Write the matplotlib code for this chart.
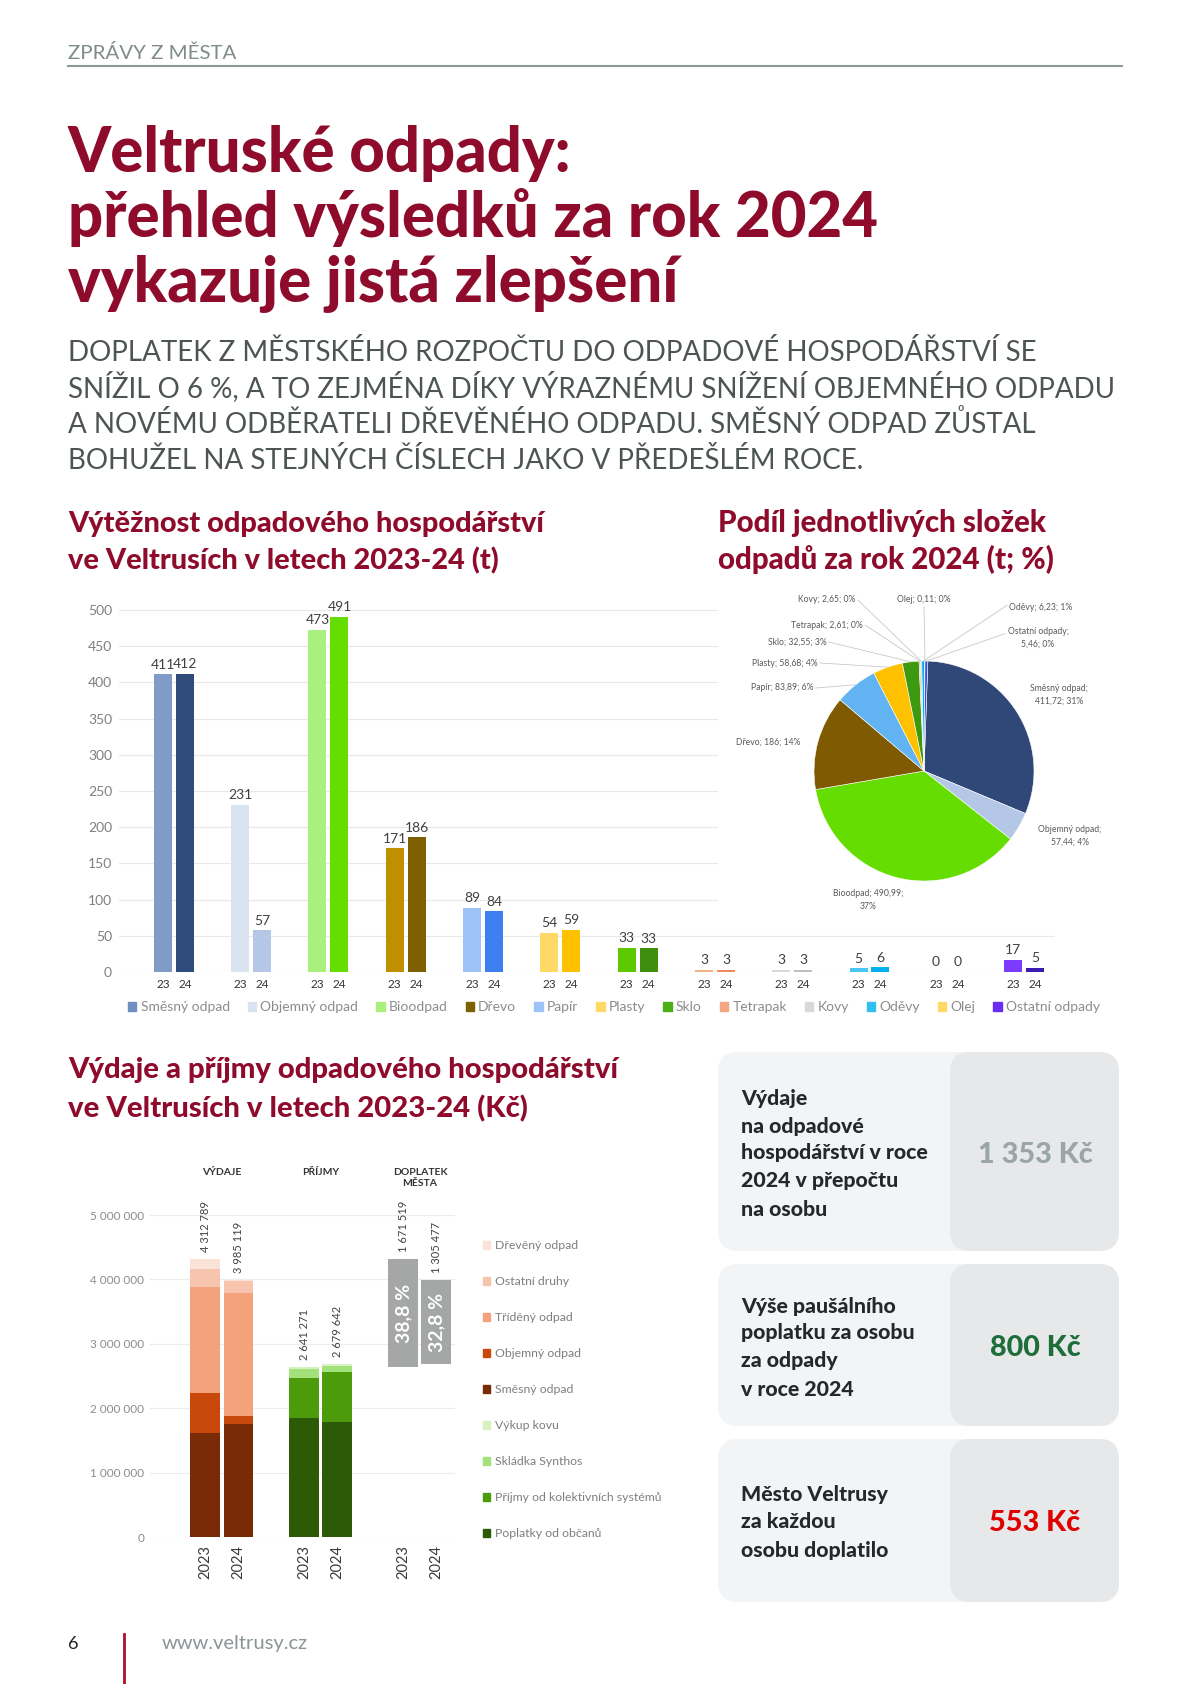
import numpy as np
import matplotlib
matplotlib.use('Agg')
import matplotlib.pyplot as plt
from matplotlib import font_manager
from matplotlib.patches import FancyBboxPatch, Patch

W, H = 1191, 1684

# --- Vytéžnost odpadového hospodářství (t) ---
waste_types = ['Směsný odpad', 'Objemný odpad', 'Bioodpad', 'Dřevo', 'Papír', 'Plasty',
               'Sklo', 'Tetrapak', 'Kovy', 'Oděvy', 'Olej', 'Ostatní odpady']
tons_2023 = [411, 231, 473, 171, 89, 54, 33, 3, 3, 5, 0, 17]
tons_2024 = [411.72, 57.44, 490.99, 186, 83.89, 58.68, 32.55, 2.61, 2.65, 6.23, 0.11, 5.46]
short_years = ['23', '24']

# --- podíl složek 2024 (t; %) ---
pie_pct = [31, 4, 37, 14, 6, 4, 3, 0, 0, 1, 0, 0]

# --- výdaje a příjmy (Kč) ---
years = ['2023', '2024']
groups = ['VÝDAJE', 'PŘÍJMY', 'DOPLATEK\nMĚSTA']
exp_labels = ['Směsný odpad', 'Objemný odpad', 'Tříděný odpad', 'Ostatní druhy', 'Dřevěný odpad']
exp_2023 = [1615000, 625000, 1635000, 282789, 155000]
exp_2024 = [1755000, 125000, 1905000, 185119, 15000]
inc_labels = ['Poplatky od občanů', 'Příjmy od kolektivních systémů', 'Skládka Synthos', 'Výkup kovu']
inc_2023 = [1850000, 625000, 140000, 26271]
inc_2024 = [1785000, 770000, 95000, 29642]
doplatek = [1671519, 1305477]

# --- infoboxy ---
box_texts = [['Výdaje', 'na odpadové', 'hospodářství v roce', '2024 v přepočtu', 'na osobu'],
             ['Výše paušálního', 'poplatku za osobu', 'za odpady', 'v roce 2024'],
             ['Město Veltrusy', 'za každou', 'osobu doplatilo']]
box_values = ['1 353 Kč', '800 Kč', '553 Kč']

# colours
RED = '#8f0b2c'
c23 = ['#7f9cc7', '#dae3f0', '#a9f07c', '#bf8f00', '#9dc3f6', '#ffd966',
       '#5ec800', '#f4b183', '#d9d9d9', '#47c8f2', '#ffe699', '#7c3cff']
c24 = ['#2f4b7c', '#b4c7e7', '#66dd00', '#7f6000', '#3e7ff0', '#ffc000',
       '#3d8f0d', '#f08a5c', '#bfbfbf', '#00b0f0', '#c9a227', '#3a1cb0']
leg_cols = ['#6f8fc0', '#dae3f0', '#a9f07c', '#7f6000', '#9dc3f6', '#ffd966',
            '#4caf1a', '#f4a582', '#d9d9d9', '#2fc0f0', '#ffd966', '#6a2cf0']
pie_cols = ['#2f4878', '#b4c7e7', '#66dd00', '#7f5a00', '#62b3f2', '#ffc000',
            '#3d9a10', '#f08a5c', '#bfbfbf', '#00b0f0', '#c9a227', '#3050e0']
exp_cols = ['#7a2a06', '#c9480c', '#f4a27c', '#f7c4ae', '#fbe2d6']
inc_cols = ['#2d5a06', '#4b9b0a', '#a3e27a', '#d6f2c0']
box_val_cols = ['#9aa5a5', '#1f6e3a', '#e00000']

names = {f.name for f in font_manager.fontManager.ttflist}
NARROW = 'Liberation Sans Narrow' if 'Liberation Sans Narrow' in names else 'Lato'
SANS = 'Lato' if 'Lato' in names else 'DejaVu Sans'
plt.rcParams['font.family'] = [SANS, 'DejaVu Sans']

fig = plt.figure(figsize=(W / 100, H / 100), dpi=100)
renderer = fig.canvas.get_renderer()
page = fig.add_axes([0, 0, 1, 1])
page.set_xlim(0, W)
page.set_ylim(H, 0)
page.axis('off')


def px_axes(x0, y0, x1, y1):
    return fig.add_axes([x0 / W, 1 - y1 / H, (x1 - x0) / W, (y1 - y0) / H])


def fit(t, width):
    bb = t.get_window_extent(renderer)
    t.set_fontsize(t.get_fontsize() * width / bb.width)
    return t.get_fontsize()


# header
t = page.text(68, 59, 'ZPRÁVY Z MĚSTA', family=NARROW, fontsize=14, color='#7f8c89')
fit(t, 169)
page.plot([68, 1122], [65.5, 65.5], color='#8e9a97', lw=1.5)

# title
title = ['Veltruské odpady:', 'přehled výsledků za rok 2024', 'vykazuje jistá zlepšení']
tt = [page.text(68, y, s, family=NARROW, weight='black', fontsize=40, color=RED)
      for s, y in zip(title, [172, 237, 302])]
fs = fit(tt[1], 808)
for t in tt:
    t.set_fontsize(fs)

sub = ['DOPLATEK Z MĚSTSKÉHO ROZPOČTU DO ODPADOVÉ HOSPODÁŘSTVÍ SE',
       'SNÍŽIL O 6 %, A TO ZEJMÉNA DÍKY VÝRAZNÉMU SNÍŽENÍ OBJEMNÉHO ODPADU',
       'A NOVÉMU ODBĚRATELI DŘEVĚNÉHO ODPADU. SMĚSNÝ ODPAD ZŮSTAL',
       'BOHUŽEL NA STEJNÝCH ČÍSLECH JAKO V PŘEDEŠLÉM ROCE.']
st = [page.text(68, y, s, family=NARROW, fontsize=20, color='#4d5553')
      for s, y in zip(sub, [361, 397, 433, 469])]
fs = fit(st[1], 1045)
for t in st:
    t.set_fontsize(fs)


# section headings
def heading(x, y1, y2, l1, l2, width):
    a = page.text(x, y1, l1, weight='black', fontsize=16, color=RED)
    b = page.text(x, y2, l2, weight='black', fontsize=16, color=RED)
    f = fit(a, width)
    b.set_fontsize(f)


heading(68, 532, 569, 'Výtěžnost odpadového hospodářství', 've Veltrusích v letech 2023-24 (t)', 475)
heading(718, 532, 569, 'Podíl jednotlivých složek', 'odpadů za rok 2024 (t; %)', 327)
heading(68, 1078, 1117, 'Výdaje a příjmy odpadového hospodářství', 've Veltrusích v letech 2023-24 (Kč)', 550)

# ---- bar chart ----
ax = px_axes(119, 595.5, 1055, 972)
x = np.arange(len(waste_types))
off, bw = 0.142, 0.233
bars1 = ax.bar(x - off, tons_2023, bw, color=c23)
bars2 = ax.bar(x + off, tons_2024, bw, color=c24)
for bars, vals in ((bars1, tons_2023), (bars2, tons_2024)):
    for b, v in zip(bars, vals):
        ax.text(b.get_x() + b.get_width() / 2, v + 5, f'{v:.0f}', ha='center', va='bottom',
                fontsize=10, color='#404040')
ax.set_ylim(0, 520)
ax.set_xlim(-0.71, 11.4)
ax.set_yticks(range(0, 501, 50))
ax.set_xticks(np.concatenate([x - off, x + off]))
ax.set_xticklabels([short_years[0]] * len(x) + [short_years[1]] * len(x))
ax.grid(axis='y', color='#e8e8e8', lw=0.8)
ax.set_axisbelow(True)
for s in ax.spines.values():
    s.set_visible(False)
ax.tick_params(axis='y', length=0, labelsize=10, labelcolor='#808080', pad=5)
ax.tick_params(axis='x', length=0, labelsize=8.5, labelcolor='#333333', pad=5)
ax.set_facecolor('none')

fig.legend([Patch(color=c) for c in leg_cols], waste_types, ncol=12, loc='center',
           bbox_to_anchor=(614 / W, 1 - 1007 / H), frameon=False, fontsize=10,
           handlelength=0.6, handleheight=0.6, handletextpad=0.3, columnspacing=1.3,
           labelcolor='#8c8c8c')

# ---- pie ----
R, CX, CY = 110, 924, 771
pa = px_axes(718, 575, 1120, 925)
wedges, _ = pa.pie(tons_2024, colors=pie_cols, startangle=88, counterclock=False,
                   radius=1, center=(0, 0), wedgeprops=dict(linewidth=0.4, edgecolor='white'))
pa.set_frame_on(True)
pa.set_facecolor('white')
for s in pa.spines.values():
    s.set_visible(False)
pa.set_xticks([])
pa.set_yticks([])
pa.set_aspect('auto')
pa.set_xlim(-(CX - 718) / R, (1120 - CX) / R)
pa.set_ylim(-(925 - CY) / R, (CY - 575) / R)
pa.set_zorder(ax.get_zorder() + 1)


def pu(X, Y):
    return (X - CX) / R, (CY - Y) / R


label_fmt = ['{n};\n{v}; {p}%', '{n};\n{v}; {p}%', '{n}; {v};\n{p}%', '{n}; {v}; {p}%',
             '{n}; {v}; {p}%', '{n}; {v}; {p}%', '{n}; {v}; {p}%', '{n}; {v}; {p}%',
             '{n}; {v}; {p}%', '{n}; {v}; {p}%', '{n}; {v}; {p}%', '{n};\n{v}; {p}%']
label_xy = [(1059, 695), (1070, 836), (868, 900), (768, 742), (782, 688), (785, 663),
            (797, 642), (827, 625), (827, 600), (1041, 607), (924, 600), (1038, 638)]
leader_side = [None, None, None, None, 'r', 'r', 'r', 'r', 'r', 'l', 'b', 'l']
inv = pa.transData.inverted()
for i, w in enumerate(wedges):
    v = f'{tons_2024[i]:g}'.replace('.', ',')
    s = label_fmt[i].format(n=waste_types[i], v=v, p=pie_pct[i])
    lx, ly = pu(*label_xy[i])
    t = pa.text(lx, ly, s, ha='center', va='center', fontsize=6.2, color='#595959',
                linespacing=1.6)
    side = leader_side[i]
    if side is None:
        continue
    bb = t.get_window_extent(renderer).transformed(inv)
    if side == 'r':
        sx, sy = bb.x1 + 0.02, (bb.y0 + bb.y1) / 2
    elif side == 'l':
        sx, sy = bb.x0 - 0.02, bb.y1 - (bb.y1 - bb.y0) * 0.3
    else:
        sx, sy = (bb.x0 + bb.x1) / 2, bb.y0 - 0.02
    ang = np.deg2rad((w.theta1 + w.theta2) / 2)
    pa.plot([sx, np.cos(ang)], [sy, np.sin(ang)], color='#c8c8c8', lw=0.6)

# ---- expenses / income ----
ax2 = px_axes(150, 1215, 455, 1537)
d, bw2 = 0.167, 0.303
xs = {(g, j): g + (-d if j == 0 else d) for g in range(3) for j in range(2)}
for j, vals in enumerate([exp_2023, exp_2024]):
    ax2.bar([xs[0, j]] * len(vals), vals, bw2, bottom=np.concatenate([[0], np.cumsum(vals)[:-1]]),
            color=exp_cols)
    tot = sum(vals)
    ax2.text(xs[0, j], tot + 110000, f'{tot:,}'.replace(',', ' '), rotation=90, ha='center',
             va='bottom', fontsize=8, color='#404040')
for j, vals in enumerate([inc_2023, inc_2024]):
    ax2.bar([xs[1, j]] * len(vals), vals, bw2, bottom=np.concatenate([[0], np.cumsum(vals)[:-1]]),
            color=inc_cols)
    tot = sum(vals)
    ax2.text(xs[1, j], tot + 110000, f'{tot:,}'.replace(',', ' '), rotation=90, ha='center',
             va='bottom', fontsize=8, color='#404040')
exp_tot = [sum(exp_2023), sum(exp_2024)]
inc_tot = [sum(inc_2023), sum(inc_2024)]
for j in range(2):
    ax2.bar(xs[2, j], doplatek[j], bw2, bottom=inc_tot[j], color='#a5a7a7')
    ax2.text(xs[2, j], inc_tot[j] + doplatek[j] + 110000, f'{doplatek[j]:,}'.replace(',', ' '),
             rotation=90, ha='center', va='bottom', fontsize=8, color='#404040')
    pct = f'{100 * doplatek[j] / exp_tot[j]:.1f} %'.replace('.', ',')
    ax2.text(xs[2, j], inc_tot[j] + doplatek[j] / 2, pct, rotation=90, ha='center',
             va='center', fontsize=14, weight='bold', color='white')
for g, name in enumerate(groups):
    ax2.text(g, 1.146, name, transform=ax2.get_xaxis_transform(), ha='center', va='top',
             fontsize=7.5, weight='bold', color='#333333', linespacing=1.3)
ax2.set_ylim(0, 5e6)
ax2.set_xlim(-0.727, 2.354)
ax2.set_yticks(np.arange(0, 5e6 + 1, 1e6))
ax2.set_yticklabels([f'{int(v):,}'.replace(',', ' ') for v in np.arange(0, 5e6 + 1, 1e6)])
ax2.set_xticks([xs[g, j] for g in range(3) for j in range(2)])
ax2.set_xticklabels(years * 3, rotation=90)
ax2.grid(axis='y', color='#ececec', lw=0.8)
ax2.set_axisbelow(True)
for s in ax2.spines.values():
    s.set_visible(False)
ax2.tick_params(axis='y', length=0, labelsize=8.5, labelcolor='#8c8c8c', pad=4)
ax2.tick_params(axis='x', length=0, labelsize=10.5, labelcolor='#3a3a3a', pad=6)
ax2.set_facecolor('none')

leg_labels = exp_labels[::-1] + inc_labels[::-1]
leg_colors = exp_cols[::-1] + inc_cols[::-1]
fig.legend([Patch(color=c) for c in leg_colors], leg_labels, loc='upper left',
           bbox_to_anchor=(472 / W, 1 - 1229 / H), frameon=False, fontsize=8.8,
           handlelength=0.6, handleheight=0.6, handletextpad=0.4, labelspacing=2.05,
           labelcolor='#7f7f7f')

# ---- info boxes ----
box_y = [(1052, 1251), (1264, 1426), (1439, 1602)]
line_y = [[1098, 1126, 1153, 1181, 1210], [1306, 1333, 1361, 1390], [1494, 1522, 1550]]
val_y = [1155, 1348, 1523]
for (y0, y1) in box_y:
    page.add_patch(FancyBboxPatch((718, y0), 401, y1 - y0, boxstyle='round,pad=0,rounding_size=20',
                                  fc='#f3f4f6', ec='none'))
    page.add_patch(FancyBboxPatch((950, y0), 169, y1 - y0, boxstyle='round,pad=0,rounding_size=20',
                                  fc='#e6e8e9', ec='none'))
bt = []
for lines, ys in zip(box_texts, line_y):
    for s, y in zip(lines, ys):
        bt.append(page.text(741, y, s, va='center', weight='black', fontsize=13, color='#23292b'))
fs = fit(bt[2], 186)
for t in bt:
    t.set_fontsize(fs)
vt = [page.text(1035, y, s, ha='center', va='center', weight='black', fontsize=20, color=c)
      for s, y, c in zip(box_values, val_y, box_val_cols)]
fs = fit(vt[0], 114)
for t in vt:
    t.set_fontsize(fs)

# footer
page.text(68, 1649, '6', fontsize=13, color='#222222')
page.plot([124, 124], [1634, 1684], color='#b0102a', lw=2)
t = page.text(162, 1649, 'www.veltrusy.cz', fontsize=13, color='#8a9595')
fit(t, 146)

fig.savefig('out.png', dpi=100)
